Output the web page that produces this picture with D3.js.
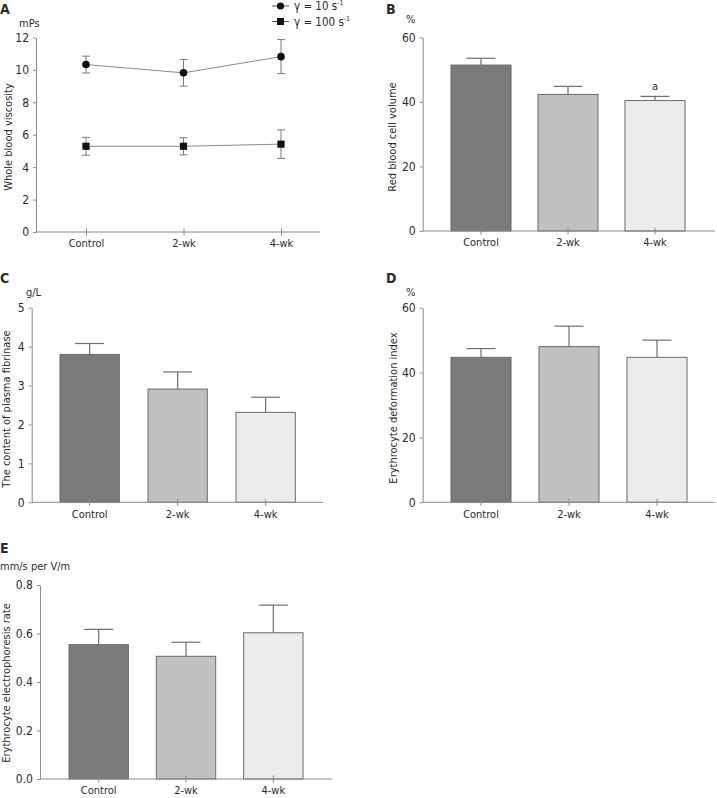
<!DOCTYPE html>
<html>
<head>
<meta charset="utf-8">
<script src="https://cdn.jsdelivr.net/npm/d3@7"></script>
<style>
  html, body { margin: 0; padding: 0; background: #fff; }
  svg { display: block; }
  text { font-family: Tahoma, "DejaVu Sans Condensed", "DejaVu Sans", sans-serif; fill: #2b2b2b; }
</style>
</head>
<body>
<svg id="chart" width="717" height="798"></svg>
<script>
// ---------------- data ----------------
const categories = ["Control", "2-wk", "4-wk"];

// Panel A: whole blood viscosity (mPs)
const viscosityLow = [10.33, 9.82, 10.82];     // γ = 10 s-1
const viscosityLowErr = [0.52, 0.82, 1.05];
const viscosityHigh = [5.29, 5.29, 5.42];      // γ = 100 s-1
const viscosityHighErr = [0.55, 0.53, 0.88];
const viscosityTicks = [0, 2, 4, 6, 8, 10, 12];

// Panel B: red blood cell volume (%)
const rbcVolume = [51.4, 42.3, 40.4];
const rbcVolumeErr = [2.1, 2.5, 1.3];
const rbcTicks = [0, 20, 40, 60];

// Panel C: plasma fibrinase (g/L)
const fibrinase = [3.80, 2.91, 2.31];
const fibrinaseErr = [0.28, 0.44, 0.39];
const fibrinaseTicks = [0, 1, 2, 3, 4, 5];

// Panel D: erythrocyte deformation index (%)
const deformation = [44.7, 48.0, 44.7];
const deformationErr = [2.7, 6.3, 5.3];
const deformationTicks = [0, 20, 40, 60];

// Panel E: erythrocyte electrophoresis rate (mm/s per V/m)
const electrophoresis = [0.554, 0.506, 0.603];
const electrophoresisErr = [0.063, 0.058, 0.114];
const electrophoresisTicks = [0, 0.2, 0.4, 0.6, 0.8];

const barColors = ["#7b7b7b", "#c0c1c0", "#ececec"];

// ---------------- drawing ----------------
const svg = d3.select("#chart");
const AXIS = "#8a8a8a";
const FS = 11;
const intFmt = d3.format("d");

function yAxis(g, y, ticks, fmt, x0) {
  const ax = d3.axisLeft(y).tickValues(ticks).tickSizeOuter(0).tickSizeInner(3).tickPadding(4)
    .tickFormat(fmt || intFmt);
  const a = g.append("g").attr("transform", `translate(${x0},0)`).call(ax);
  a.select(".domain").attr("stroke", AXIS);
  a.selectAll(".tick line").attr("stroke", AXIS);
  a.selectAll(".tick text").attr("font-size", 12).attr("fill", "#2b2b2b");
}

function xAxis(g, x, y0, x0, x1) {
  g.append("line").attr("x1", x0).attr("x2", x1).attr("y1", y0).attr("y2", y0)
    .attr("stroke", AXIS);
  const ax = d3.axisBottom(x).tickSizeOuter(0).tickSizeInner(7).tickPadding(4);
  const a = g.append("g").attr("transform", `translate(0,${y0 - 3.5})`).call(ax);
  a.select(".domain").remove();
  a.selectAll(".tick line").attr("stroke", AXIS);
  a.selectAll(".tick text").attr("font-size", FS).attr("fill", "#2b2b2b");
}

function panelText(g, letter, lx, ly, unit, ux, uy, ylabel, yx, yy) {
  g.append("text").attr("x", lx).attr("y", ly).attr("font-size", 14)
    .attr("font-weight", "bold").attr("fill", "#111").text(letter);
  g.append("text").attr("x", ux).attr("y", uy).attr("font-size", FS).text(unit);
  g.append("text").attr("transform", `translate(${yx},${yy}) rotate(-90)`)
    .attr("text-anchor", "middle").attr("dy", "0.35em").attr("font-size", FS).text(ylabel);
}

function barPanel(cfg) {
  const g = svg.append("g");
  const y = d3.scaleLinear().domain([0, cfg.max]).range([cfg.y0, cfg.yTop]);
  const x = d3.scaleBand().domain(categories).range([cfg.b0, cfg.b1]).paddingInner(cfg.pi).paddingOuter(0);
  const data = categories.map((c, i) => ({ c, v: cfg.values[i], e: cfg.errs[i], col: barColors[i] }));
  // error bars (upper only)
  const eb = g.selectAll(".eb").data(data).join("g");
  eb.append("line")
    .attr("x1", d => x(d.c) + x.bandwidth() / 2).attr("x2", d => x(d.c) + x.bandwidth() / 2)
    .attr("y1", d => y(d.v)).attr("y2", d => y(d.v + d.e))
    .attr("stroke", "#6e6e6e").attr("stroke-width", 1.2);
  eb.append("line")
    .attr("x1", d => x(d.c) + x.bandwidth() / 2 - 14.5).attr("x2", d => x(d.c) + x.bandwidth() / 2 + 14.5)
    .attr("y1", d => y(d.v + d.e)).attr("y2", d => y(d.v + d.e))
    .attr("stroke", "#6e6e6e").attr("stroke-width", 1.2);
  g.selectAll(".bar").data(data).join("rect")
    .attr("x", d => x(d.c)).attr("width", x.bandwidth())
    .attr("y", d => y(d.v)).attr("height", d => y(0) - y(d.v))
    .attr("fill", d => d.col).attr("stroke", "#6a6a6a").attr("stroke-width", 1);
  yAxis(g, y, cfg.ticks, cfg.fmt, cfg.ax);
  xAxis(g, x, cfg.y0, cfg.ax, cfg.xEnd);
  panelText(g, cfg.letter, cfg.lx, cfg.ly, cfg.unit, cfg.ux, cfg.uy, cfg.ylabel, cfg.yx, cfg.yy);
  return { g, x, y };
}

// ---- Panel A ----
(function () {
  const g = svg.append("g");
  const y = d3.scaleLinear().domain([0, 12]).range([232, 37.5]);
  const x = d3.scalePoint().domain(categories).range([86, 281]);
  const series = [
    { name: "low", vals: viscosityLow, errs: viscosityLowErr, shape: "circle" },
    { name: "high", vals: viscosityHigh, errs: viscosityHighErr, shape: "square" }
  ];
  yAxis(g, y, viscosityTicks, null, 36);
  xAxis(g, x, 232, 36, 320);
  const line = d3.line().x(d => x(d.c)).y(d => y(d.v));
  series.forEach(s => {
    const data = categories.map((c, i) => ({ c, v: s.vals[i], e: s.errs[i] }));
    g.append("path").datum(data).attr("d", line).attr("fill", "none")
      .attr("stroke", "#8c8c8c").attr("stroke-width", 1);
    const eb = g.append("g").selectAll("g").data(data).join("g").attr("stroke", "#7a7a7a");
    eb.append("line").attr("x1", d => x(d.c)).attr("x2", d => x(d.c))
      .attr("y1", d => y(d.v - d.e)).attr("y2", d => y(d.v + d.e));
    eb.append("line").attr("x1", d => x(d.c) - 4).attr("x2", d => x(d.c) + 4)
      .attr("y1", d => y(d.v + d.e)).attr("y2", d => y(d.v + d.e));
    eb.append("line").attr("x1", d => x(d.c) - 4).attr("x2", d => x(d.c) + 4)
      .attr("y1", d => y(d.v - d.e)).attr("y2", d => y(d.v - d.e));
    if (s.shape === "circle") {
      g.append("g").selectAll("circle").data(data).join("circle")
        .attr("cx", d => x(d.c)).attr("cy", d => y(d.v)).attr("r", 3.8).attr("fill", "#111");
    } else {
      g.append("g").selectAll("rect").data(data).join("rect")
        .attr("x", d => x(d.c) - 3.6).attr("y", d => y(d.v) - 3.6)
        .attr("width", 7.2).attr("height", 7.2).attr("fill", "#111");
    }
  });
  // legend
  const leg = g.append("g");
  const items = [
    { y: 6, shape: "circle", label: "γ = 10 s", sup: "-1" },
    { y: 21.5, shape: "square", label: "γ = 100 s", sup: "-1" }
  ];
  items.forEach(it => {
    leg.append("line").attr("x1", 272).attr("x2", 289).attr("y1", it.y).attr("y2", it.y)
      .attr("stroke", "#555");
    if (it.shape === "circle") leg.append("circle").attr("cx", 280.5).attr("cy", it.y).attr("r", 3.6).attr("fill", "#111");
    else leg.append("rect").attr("x", 277).attr("y", it.y - 3.5).attr("width", 7).attr("height", 7).attr("fill", "#111");
    const t = leg.append("text").attr("x", 294).attr("y", it.y).attr("dy", "0.38em").attr("font-size", 11.5);
    t.append("tspan").text(it.label);
    t.append("tspan").attr("font-size", 7).attr("dy", "-0.75em").text(it.sup);
  });
  panelText(g, "A", 0, 14, "mPs", 19, 27, "Whole blood viscosity", 8, 137);
})();

// ---- Panel B ----
const pB = barPanel({
  values: rbcVolume, errs: rbcVolumeErr, ticks: rbcTicks, max: 60,
  y0: 231, yTop: 37.3, b0: 451, b1: 685, pi: 0.31, ax: 422.7, xEnd: 715,
  letter: "B", lx: 386, ly: 14, unit: "%", ux: 406, uy: 23,
  ylabel: "Red blood cell volume", yx: 392, yy: 137
});
pB.g.append("text").attr("x", pB.x("4-wk") + pB.x.bandwidth() / 2)
  .attr("y", pB.y(rbcVolume[2] + rbcVolumeErr[2]) - 6).attr("text-anchor", "middle")
  .attr("font-size", FS).text("a");

// ---- Panel C ----
barPanel({
  values: fibrinase, errs: fibrinaseErr, ticks: fibrinaseTicks, max: 5,
  y0: 502.3, yTop: 307.7, b0: 60, b1: 295.3, pi: 0.326, ax: 31.7, xEnd: 323,
  letter: "C", lx: 0, ly: 283, unit: "g/L", ux: 26, uy: 295.5,
  ylabel: "The content of plasma fibrinase", yx: 6, yy: 409
});

// ---- Panel D ----
barPanel({
  values: deformation, errs: deformationErr, ticks: deformationTicks, max: 60,
  y0: 502.3, yTop: 307.7, b0: 451, b1: 687, pi: 0.318, ax: 422.7, xEnd: 715,
  letter: "D", lx: 386, ly: 283, unit: "%", ux: 406, uy: 295.5,
  ylabel: "Erythrocyte deformation index", yx: 393.5, yy: 408
});

// ---- Panel E ----
barPanel({
  values: electrophoresis, errs: electrophoresisErr, ticks: electrophoresisTicks, max: 0.8,
  fmt: d3.format(".1f"),
  y0: 779, yTop: 585, b0: 69, b1: 303, pi: 0.32, ax: 40, xEnd: 331.7,
  letter: "E", lx: 0, ly: 553, unit: "mm/s per V/m", ux: 0, uy: 569.5,
  ylabel: "Erythrocyte electrophoresis rate", yx: 6, yy: 683
});
</script>
</body>
</html>
